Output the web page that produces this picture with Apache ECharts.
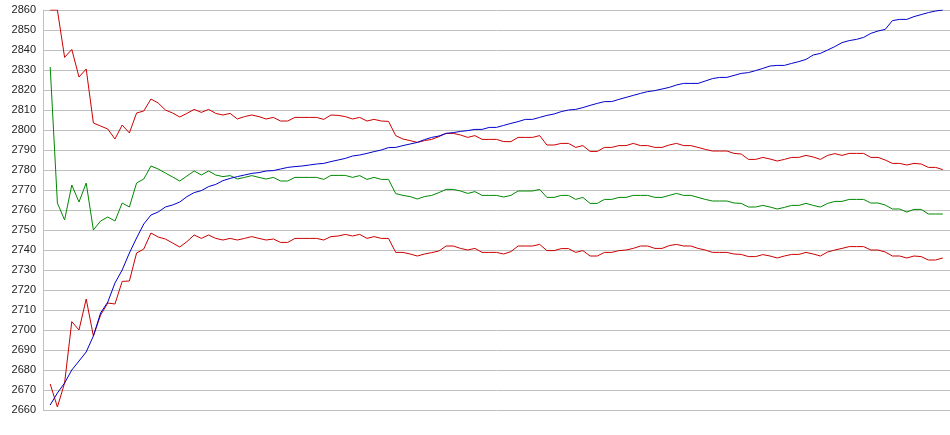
<!DOCTYPE html>
<html>
<head>
<meta charset="utf-8">
<script src="https://cdn.jsdelivr.net/npm/echarts@6/dist/echarts.min.js"></script>
<style>
html,body{margin:0;padding:0;background:#fff;}
#chart{width:950px;height:435px;}
</style>
</head>
<body>
<div id="chart"></div>
<script>
// Y-axis tick labels
var yTicks = [2660,2670,2680,2690,2700,2710,2720,2730,2740,2750,2760,2770,2780,2790,2800,2810,2820,2830,2840,2850,2860];

// Upper band (red)
var upperBand = [2860,2860,2836.3,2840.3,2826.5,2830.5,2803.5,2802,2800.5,2795.5,
2802.5,2798.5,2808.5,2809.5,2815.5,2813.5,2810,2808.5,2806.5,2808.3,
2810.3,2808.8,2810.3,2808.3,2807.5,2808.3,2805.5,2806.7,2807.5,2806.7,
2805.5,2806.3,2804.5,2804.5,2806.3,2806.3,2806.3,2806.3,2805.3,2807.5,
2807.3,2806.7,2805.5,2806.3,2804.5,2805.3,2804.5,2804.3,2797.2,2795.5,
2794.7,2793.8,2794.7,2795.3,2796.7,2798.3,2798.3,2797.5,2796.3,2797.2,
2795.3,2795.3,2795.3,2794.2,2794.2,2796.3,2796.3,2796.3,2797.2,2792.5,
2792.5,2793.3,2793.3,2791.3,2792.2,2789.3,2789.3,2791.3,2791.3,2792.2,
2792.2,2793.3,2792.2,2792.2,2791.3,2791.3,2792.5,2793.3,2792.2,2792.2,
2791.3,2790.3,2789.5,2789.5,2789.5,2788.3,2788,2785.3,2785.3,2786.3,
2785.5,2784.5,2785.3,2786.3,2786.3,2787.3,2786.5,2785.3,2787.3,2788.2,
2787.3,2788.3,2788.3,2788.3,2786.3,2786.3,2785,2783.3,2783.3,2782.5,
2783.3,2783,2781.3,2781.3,2780.2];

// Middle line (green)
var middleLine = [2831.5,2763.5,2755,2772.5,2764,2773.5,2750,2754.5,2756.5,2754.5,
2763.5,2761.5,2773.5,2775.5,2782,2780.5,2778.5,2776.5,2774.5,2777,
2779.5,2777.5,2779.5,2777.5,2776.7,2777.2,2775.5,2776.3,2777.2,2776.3,
2775.5,2776.3,2774.5,2774.5,2776.3,2776.3,2776.3,2776.3,2775.3,2777.3,
2777.3,2777.3,2776.3,2777.2,2775.3,2776.3,2775.3,2775.3,2768.2,2767.3,
2766.7,2765.5,2766.7,2767.3,2768.7,2770.3,2770.3,2769.5,2768.3,2769.2,
2767.3,2767.3,2767.3,2766.5,2767.3,2769.5,2769.5,2769.5,2770.3,2766.3,
2766.3,2767.3,2767.3,2765.3,2766.3,2763.3,2763.3,2765.3,2765.3,2766.3,
2766.3,2767.3,2767.3,2767.3,2766.3,2766.3,2767.3,2768.3,2767.3,2767.3,
2766.3,2765.3,2764.5,2764.5,2764.5,2763.5,2763.3,2761.5,2761.5,2762.3,
2761.5,2760.5,2761.3,2762.3,2762.3,2763.3,2762.3,2761.5,2763.3,2764.3,
2764.3,2765.3,2765.3,2765.3,2763.5,2763.5,2762.5,2760.5,2760.5,2759,
2760.3,2760.3,2758,2758,2758];

// Lower band (red)
var lowerBand = [2673,2661.5,2673.5,2704.2,2700,2715.5,2697,2707.5,2713.5,2713,
2724.3,2724.5,2738.5,2740.5,2748.5,2746.5,2745.5,2743.5,2741.5,2744.2,
2747.5,2745.8,2747.5,2745.8,2745,2745.8,2745,2745.8,2746.7,2745.8,
2745,2745.5,2743.8,2743.8,2745.8,2745.8,2745.8,2745.8,2745,2746.7,
2747,2747.8,2747,2747.8,2745.8,2746.7,2745.8,2745.8,2738.8,2738.8,
2738,2737,2738,2738.7,2739.5,2742,2742,2740.8,2740,2740.8,
2738.8,2738.8,2738.8,2738,2739.2,2742,2742,2742,2742.8,2739.7,
2739.7,2740.7,2740.7,2738.8,2739.7,2737,2737,2738.8,2738.8,2739.7,
2740,2740.8,2742,2742,2740.8,2740.8,2742.2,2742.8,2742,2742,
2740.8,2740,2738.8,2738.8,2738.8,2738,2737.8,2736.7,2736.7,2737.7,
2737,2736,2737,2737.8,2737.8,2738.8,2738,2737,2739,2740,
2740.8,2741.7,2741.7,2741.7,2740,2740,2739,2737,2737,2736,
2737,2736.7,2735,2735,2736];

// Price / trend line (blue)
var trendLine = [2662.5,2668.5,2673.5,2680,2684.5,2689,2697,2708.5,2714,2723.5,
2730,2738.5,2746,2753,2757.5,2759,2761.5,2762.5,2764,2766.7,
2768.7,2769.7,2771.7,2772.8,2774.7,2775.8,2776.7,2777.5,2778.3,2778.7,
2779.5,2779.7,2780.5,2781.3,2781.7,2782,2782.5,2783,2783.3,2784.2,
2785,2785.8,2787,2787.5,2788.3,2789.2,2790,2791.2,2791.3,2792.2,
2793,2793.8,2795.2,2796.3,2797,2798.3,2798.7,2799.3,2799.7,2800.3,
2800.3,2801.3,2801.3,2802.3,2803.3,2804.2,2805.3,2805.3,2806.3,2807.3,
2808,2809.2,2810,2810.3,2811.2,2812.3,2813.3,2814.2,2814.2,2815.3,
2816.3,2817.3,2818.3,2819.2,2819.7,2820.5,2821.3,2822.5,2823.3,2823.3,
2823.3,2824.5,2825.7,2826.3,2826.3,2827.3,2828.3,2828.7,2829.7,2830.8,
2832,2832.3,2832.3,2833.3,2834.2,2835.3,2837.5,2838.3,2840,2841.7,
2843.7,2844.7,2845.3,2846.3,2848.3,2849.5,2850.3,2854.7,2855.3,2855.3,
2856.7,2857.7,2858.7,2859.5,2860];

function toPairs(arr){
  return arr.map(function(v,i){ return [i+1, v]; });
}

var chart = echarts.init(document.getElementById('chart'), null, {renderer:'canvas'});
function line(name, data, color){
  return {
    name: name, type:'line', data: toPairs(data), showSymbol:false, symbol:'none',
    lineStyle:{color:color, width:1}, itemStyle:{color:color},
    animation:false, clip:true
  };
}
chart.setOption({
  animation:false,
  backgroundColor:'#ffffff',
  grid:{left:43, top:10, right:0, height:400, containLabel:false},
  xAxis:{
    type:'value', min:0, max:126, show:true,
    axisLine:{show:false}, axisTick:{show:false}, axisLabel:{show:false},
    splitLine:{show:false}
  },
  yAxis:{
    type:'value', min:yTicks[0], max:yTicks[yTicks.length-1], interval:10,
    axisLine:{show:true, lineStyle:{color:'#c0c0c0', width:1}},
    axisTick:{show:false},
    axisLabel:{color:'#222', fontFamily:'Liberation Sans, Arial, sans-serif', fontSize:11, margin:7,
      formatter:function(v){ return String(v); }},
    splitLine:{show:true, lineStyle:{color:'#c0c0c0', width:1}}
  },
  series:[
    line('Upper', upperBand, '#cc0000'),
    line('Middle', middleLine, '#008800'),
    line('Lower', lowerBand, '#cc0000'),
    line('Trend', trendLine, '#0000cc')
  ]
});
</script>
</body>
</html>
